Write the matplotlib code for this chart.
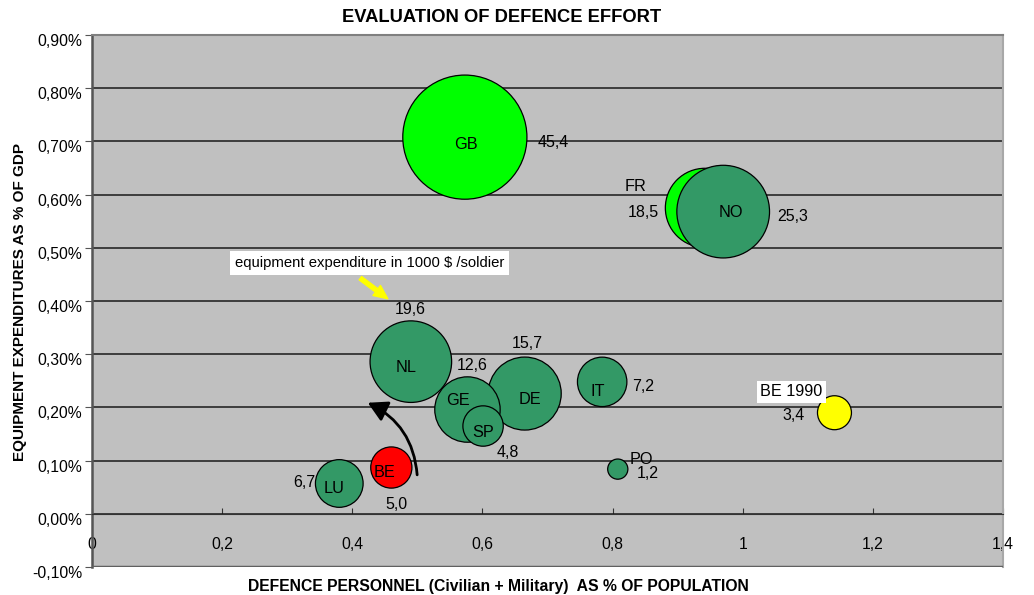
import numpy as np
import matplotlib
matplotlib.use("Agg")
import matplotlib.pyplot as plt
from matplotlib.ticker import FuncFormatter, MultipleLocator
from matplotlib.patches import FancyArrowPatch
from matplotlib.transforms import ScaledTranslation

plt.rcParams['font.family'] = ['Liberation Sans', 'DejaVu Sans']

# data
countries = ["GB", "FR", "NO", "NL", "DE", "GE", "SP", "IT", "PO", "LU", "BE", "BE 1990"]
personnel = [0.573, 0.942, 0.970, 0.490, 0.665, 0.577, 0.601, 0.784, 0.808, 0.380, 0.460, 1.141]
equipment = [0.708, 0.575, 0.568, 0.286, 0.226, 0.196, 0.165, 0.248, 0.084, 0.057, 0.087, 0.190]
per_soldier = [45.4, 18.5, 25.3, 19.6, 15.7, 12.6, 4.8, 7.2, 1.2, 6.7, 5.0, 3.4]
colors = ["#00FF00", "#00FF00", "#339966", "#339966", "#339966", "#339966",
          "#339966", "#339966", "#339966", "#339966", "#FF0000", "#FFFF00"]
# label offsets in pixels (dx, dy upwards)
name_off = [(1, -7), (-69, 21), (8, -1), (-5, -6), (5, -6), (-10, 9), (0, -6),
            (-4, -10), (24, 10), (-5, -5), (-7, -5), (-43, 21)]
value_off = [(88, -5), (-62, -5), (69, -5), (-1, 52), (3, 50), (5, 44), (25, -26),
             (41, -5), (30, -4), (-35, 1), (5, -37), (-41, -3)]

fig = plt.figure(figsize=(10.34, 5.95), dpi=100)
ax = fig.add_axes([92/1034, 28/595, 911/1034, 532/595])
ax.set_facecolor("#C0C0C0")

ax.set_xlim(0, 1.4)
ax.set_ylim(-0.1, 0.9)
ax.xaxis.set_major_locator(MultipleLocator(0.2))
ax.yaxis.set_major_locator(MultipleLocator(0.1))
ax.xaxis.set_major_formatter(FuncFormatter(lambda v, p: f"{v:g}".replace('.', ',')))
ax.yaxis.set_major_formatter(FuncFormatter(lambda v, p: f"{v:.2f}%".replace('.', ',')))

ax.grid(axis='y', color='#1a1a1a', lw=1.1, zorder=0)
ax.set_axisbelow(True)
ax.spines['bottom'].set_position(('data', 0))
ax.spines['bottom'].set_color('#333333')
ax.spines['left'].set_color('#555555')
ax.spines['left'].set_linewidth(1.8)
ax.spines['top'].set_color('#808080')
ax.spines['top'].set_linewidth(1.5)
ax.spines['right'].set_color('#a8a8a8')
ax.spines['right'].set_linewidth(1.5)
ax.axhline(ax.get_ylim()[0], color='#606060', lw=2.5, zorder=3)

ax.tick_params(axis='x', direction='in', length=4, color='#333333', pad=16.5, labelsize=11.3)
ax.tick_params(axis='y', direction='out', length=5, color='#555555', pad=2, labelsize=11.3)
shift = ScaledTranslation(0, -5/100, fig.dpi_scale_trans)
for lab in ax.get_yticklabels():
    lab.set_transform(lab.get_transform() + shift)

k = 176.0
ax.scatter(personnel, equipment, s=np.array(per_soldier) * k, c=colors,
           edgecolors='black', linewidths=0.9, zorder=4)

for i, name in enumerate(countries):
    box = None
    if name == "BE 1990":
        box = dict(facecolor='white', edgecolor='none', pad=2.5)
    ax.annotate(name, (personnel[i], equipment[i]), xytext=name_off[i],
                textcoords='offset pixels', ha='center', va='center',
                fontsize=11.7, zorder=6, bbox=box)
    ax.annotate(f"{per_soldier[i]:.1f}".replace('.', ','), (personnel[i], equipment[i]),
                xytext=value_off[i], textcoords='offset pixels',
                ha='center', va='center', fontsize=11.5, zorder=6)

ax.text(0.22, 0.471, "equipment expenditure in 1000 $ /soldier", fontsize=10.7,
        ha='left', va='center', zorder=6,
        bbox=dict(facecolor='white', edgecolor='none', pad=3.5))

ax.add_patch(FancyArrowPatch((0.409, 0.446), (0.458, 0.401),
                             arrowstyle='simple,head_width=9,head_length=10,tail_width=3',
                             color='#FFFF00', zorder=6, mutation_scale=1))
ax.add_patch(FancyArrowPatch((0.5, 0.068), (0.42, 0.211), connectionstyle='arc3,rad=0.3',
                             arrowstyle='-|>,head_width=5,head_length=9', color='black',
                             lw=2, zorder=6, mutation_scale=1.3))

fig.text(502/1034, 1 - 18/595, "EVALUATION OF DEFENCE EFFORT", fontsize=13.2,
         fontweight='bold', ha='center', va='center')
fig.text(20/1034, 1 - 302/595, "EQUIPMENT EXPENDITURES AS % OF GDP", fontsize=11,
         fontweight='bold', ha='center', va='center', rotation=90)
fig.text(498/1034, 1 - 586/595, "DEFENCE PERSONNEL (Civilian + Military)  AS % OF POPULATION",
         fontsize=11.3, fontweight='bold', ha='center', va='center')

fig.savefig("out.png", dpi=100)
